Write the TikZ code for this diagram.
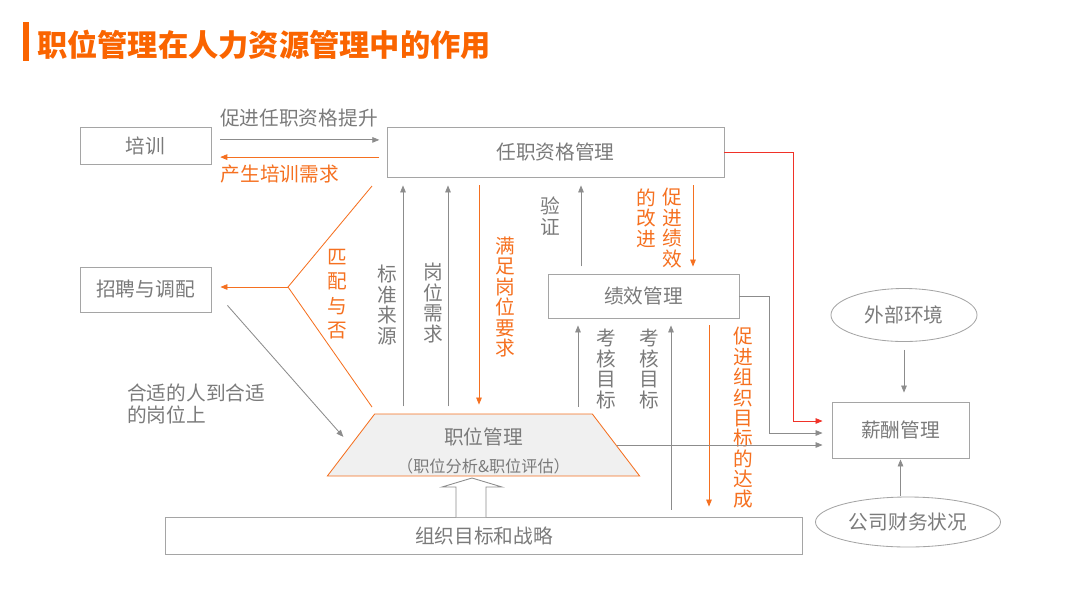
\documentclass[tikz,border=0pt]{standalone}
\usepackage{fontspec}
\setmainfont{Noto Sans CJK SC}
\usepackage{tikz}
\usetikzlibrary{shapes.geometric, arrows.meta, positioning}
\definecolor{hrorange}{RGB}{245,112,32}
\definecolor{hrtitle}{RGB}{250,100,0}
\definecolor{hrgray}{RGB}{122,122,122}
\definecolor{hrline}{RGB}{140,140,140}
\definecolor{hrbox}{RGB}{165,165,165}
\definecolor{hrred}{RGB}{240,50,40}
\definecolor{hrfill}{RGB}{240,240,240}

\tikzset{
  box/.style={draw=hrbox, line width=0.6pt, inner sep=0pt, text=hrgray, font=\fontsize{14}{16}\selectfont},
  oval/.style={ellipse, draw=hrbox, line width=0.6pt, inner sep=0pt, text=hrgray, font=\fontsize{14}{16}\selectfont},
  garr/.style={draw=hrline, line width=0.6pt, -{Triangle[length=5pt,width=4pt]}},
  oarr/.style={draw=hrorange, line width=0.6pt, -{Triangle[length=5pt,width=4pt]}},
  gap/.style={shorten <=0.18cm, shorten >=0.2cm},
  vgray/.style={align=center, inner sep=0pt, text=hrgray, font=\fontsize{14}{14.5}\selectfont},
  vorange/.style={align=center, inner sep=0pt, text=hrorange, font=\fontsize{14}{14.5}\selectfont},
}

\begin{document}
\begin{tikzpicture}[x=0.025cm, y=-0.025cm]
    \useasboundingbox (0,0) rectangle (1080,608);

    % title
    \fill[hrtitle] (23,22) rectangle (29,61);
    \node[anchor=west, inner sep=0pt, text=hrtitle, font=\fontsize{21.5}{24}\selectfont\bfseries] (title) at (37,45) {职位管理在人力资源管理中的作用};

    % boxes
    \node[box, minimum width=3.275cm, minimum height=0.925cm] (px) at (145.5,145.5) {培训};
    \node[box, minimum width=8.425cm, minimum height=1.25cm] (rz) at (555.5,152) {任职资格管理};
    \node[box, minimum width=3.275cm, minimum height=1.125cm] (zp) at (145.5,289.5) {招聘与调配};
    \node[box, minimum width=4.775cm, minimum height=1.1cm] (jx) at (643.5,296) {绩效管理};
    \node[box, minimum width=3.425cm, minimum height=1.4cm] (xc) at (900.5,430) {薪酬管理};
    \node[box, minimum width=15.9cm, minimum height=0.925cm] (zz) at (484,535.5) {组织目标和战略};
    \node[oval, minimum width=3.65cm, minimum height=1.325cm] (wb) at (904,315) {外部环境};
    \node[oval, minimum width=4.625cm, minimum height=1.25cm] (cw) at (908,522) {公司财务状况};
    \node[trapezium, trapezium left angle=57, trapezium right angle=57, trapezium stretches=true,
          minimum width=7.825cm, minimum height=1.55cm, draw=hrorange, line width=0.6pt, fill=hrfill,
          align=center, inner sep=0pt, text=hrgray, font=\fontsize{14}{16}\selectfont] (zw) at (483.5,445)
          {\rule{0pt}{20pt}职位管理\\[4pt]{\fontsize{11.5}{13}\selectfont （职位分析\&职位评估）}};

    % training
    \draw[garr, shorten <=0.22cm, shorten >=0.18cm] ([yshift=0.14cm]px.east) -- ([yshift=0.14cm]px.east -| rz.west)
        node[midway, yshift=0.55cm, text=hrgray, font=\fontsize{14}{16}\selectfont] (lts) {促进任职资格提升};
    \draw[oarr, shorten <=0.18cm, shorten >=0.22cm] ([yshift=-0.29cm]px.east -| rz.west) -- ([yshift=-0.29cm]px.east)
        node[pos=0.61, yshift=-0.43cm, text=hrorange, font=\fontsize{14}{16}\selectfont] (lcs) {产生培训需求};

    % match or not
    \coordinate (pv) at (288,287);
    \coordinate (pt) at (372,186);
    \coordinate (pb) at (372,407);
    \draw[hrorange, line width=0.6pt] (pt) -- (pv) -- (pb);
    \draw[oarr, shorten >=0.225cm] (pv) -- (pv -| zp.east);
    \node[vorange, font=\fontsize{14}{17.4}\selectfont] (lpp) at (337,294) {匹\\配\\与\\否};

    % between job management and qualification
    \draw[garr, gap] (zw.north -| 403,0) -- (rz.south -| 403,0);
    \draw[garr, gap] (zw.north -| 448,0) -- (rz.south -| 448,0);
    \draw[oarr, shorten <=0.2cm, shorten >=0.225cm] (rz.south -| 479,0) -- (zw.north -| 479,0);
    \node[vgray] (lbz) at (387,305) {标\\准\\来\\源};
    \node[vgray] (lgx) at (433,303) {岗\\位\\需\\求};
    \node[vorange] (lmz) at (505,297) {满\\足\\岗\\位\\要\\求};

    % performance and qualification
    \draw[garr, gap] (jx.north -| 581,0) -- (rz.south -| 581,0);
    \draw[oarr, shorten <=0.2cm, shorten >=0.175cm] (rz.south -| 693,0) -- (jx.north -| 693,0);
    \node[vgray] (lyz) at (550,216) {验\\证};
    \node[vorange] (lgj) at (646,218) {的\\改\\进};
    \node[vorange] (lcj) at (672,228) {促\\进\\绩\\效};

    % performance and job management
    \draw[garr, shorten <=0.175cm, shorten >=0.175cm] (zw.north -| 578,0) -- (jx.south -| 578,0);
    \draw[garr, shorten <=0.175cm, shorten >=0.175cm] (zz.north -| 671,0) -- (jx.south -| 671,0);
    \draw[oarr, shorten <=0.175cm, shorten >=0.25cm] (jx.south -| 709,0) -- (zz.north -| 709,0);
    \node[vgray] (lkh1) at (606,369) {考\\核\\目\\标};
    \node[vgray] (lkh2) at (649,369) {考\\核\\目\\标};
    \node[vorange] (lzz) at (743,418) {促\\进\\组\\织\\目\\标\\的\\达\\成};

    % recruitment
    \draw[garr, shorten >=0.27cm] ([shift={(0.4cm,0.175cm)}]zp.south east) -- (zw.west);
    \node[anchor=north west, align=left, inner sep=0pt, text=hrgray, font=\fontsize{14}{15.6}\selectfont] (lhs) at (127,384)
        {合适的人到合适\\的岗位上};

    % strategy into job management
    \draw[draw=hrline, fill=white, line width=0.6pt] (456,517) -- (456,487) -- (442,487) -- (472,478)
        -- (502,487) -- (486,487) -- (486,517);

    % into compensation
    \draw[hrred, line width=0.6pt, -{Triangle[length=5pt,width=4pt]}, shorten >=0.225cm]
        (rz.east) -- ++(1.725cm,0) |- ([yshift=0.225cm]xc.west);
    \draw[garr, shorten >=0.225cm] (jx.east) -- ++(0.75cm,0) |- ([yshift=-0.075cm]xc.west);
    \draw[garr, shorten >=0.225cm] (zw.east) -- (zw.east -| xc.west);
    \draw[garr, shorten <=0.2cm, shorten >=0.225cm] (wb.south) -- (wb.south |- xc.north);
    \draw[garr, shorten <=0.025cm, shorten >=0.025cm] (cw.north -| xc.south) -- (xc.south);
\end{tikzpicture}
\end{document}
